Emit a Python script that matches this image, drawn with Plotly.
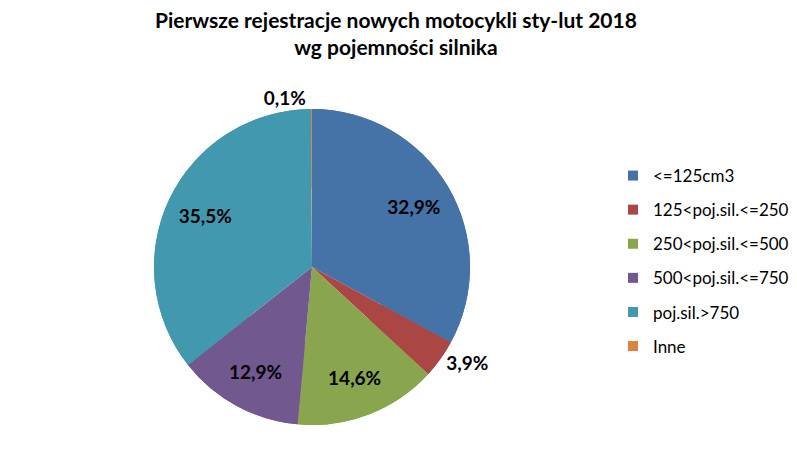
import plotly.graph_objects as go

# kategorie i udziały (%)
labels = ["<=125cm3", "125<poj.sil.<=250", "250<poj.sil.<=500",
          "500<poj.sil.<=750", "poj.sil.>750", "Inne"]
values = [32.9, 3.9, 14.6, 12.9, 35.5, 0.1]
text_labels = ["32,9%", "3,9%", "14,6%", "12,9%", "35,5%", "0,1%"]
colors = ["#4572A7", "#AA4643", "#89A54E", "#71588F", "#4198AF", "#DB843D"]

W, H = 797, 450
cx, cy, r = 304, 259, 158
lab_font = dict(family="Lato", size=19, color="black", weight="bold")
dom = dict(x=[(cx - r) / W, (cx + r) / W], y=[1 - (cy + r) / H, 1 - (cy - r) / H])
common = dict(labels=labels, values=values, sort=False, direction="clockwise",
              rotation=0, showlegend=False, domain=dom,
              marker=dict(colors=colors, line=dict(color="white", width=0)))

# pełne koło pod spodem (wypełnia środek)
fig = go.Figure(go.Pie(textinfo="none", hoverinfo="skip", **common))

# pierścień z etykietami - przesuwa etykiety bliżej krawędzi, jak w oryginale
fig.add_trace(go.Pie(
    hole=0.5,
    text=text_labels,
    textinfo="text",
    textposition=["inside", "outside", "inside", "inside", "inside", "outside"],
    textfont=lab_font,
    insidetextfont=lab_font,
    outsidetextfont=lab_font,
    insidetextorientation="horizontal",
    **common,
))

# legenda: osobne wpisy, żeby uzyskać odstępy jak w oryginale
for lab, col in zip(labels, colors):
    fig.add_trace(go.Scatter(
        x=[None], y=[None], mode="markers", name=lab, legendgroup=lab,
        marker=dict(symbol="square", size=10, color=col),
    ))

fig.add_annotation(
    text="Pierwsze rejestracje nowych motocykli sty-lut 2018<br>wg pojemności silnika",
    xref="paper", yref="paper", x=388 / W, y=1 + 3 / H,
    xanchor="center", yanchor="top", showarrow=False,
    font=dict(family="Lato", size=21, color="black", weight="bold"),
)

fig.update_layout(
    width=W, height=H,
    margin=dict(l=0, r=0, t=0, b=0),
    paper_bgcolor="white",
    plot_bgcolor="white",
    xaxis=dict(visible=False),
    yaxis=dict(visible=False),
    showlegend=True,
    legend=dict(
        x=605 / W, y=1 - 150 / H, xanchor="left", yanchor="top",
        font=dict(family="Lato", size=17, color="black"),
        tracegroupgap=9, itemwidth=30,
    ),
)

fig.write_html("out.html")
